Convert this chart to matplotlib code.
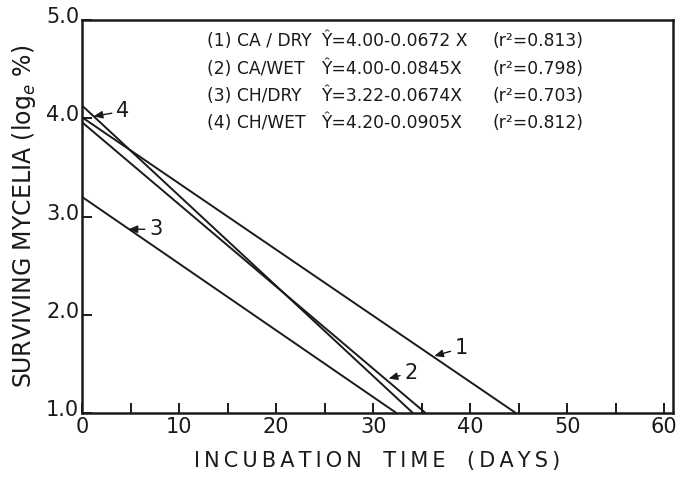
import matplotlib
matplotlib.use("Agg")
import matplotlib.pyplot as plt
from matplotlib.transforms import ScaledTranslation

# ---- data ----
line_ids = ["1", "2", "3", "4"]
y_start = [4.01, 3.96, 3.20, 4.13]      # value at day 0
x_end = [44.7, 35.4, 32.4, 34.1]        # day where each line reaches 1.0
y_floor = 1.0

eq_labels = ["(1) CA / DRY", "(2) CA/WET", "(3) CH/DRY", "(4) CH/WET"]
eq_formulas = ["Ŷ=4.00-0.0672 X", "Ŷ=4.00-0.0845X", "Ŷ=3.22-0.0674X", "Ŷ=4.20-0.0905X"]
eq_r2 = ["(r²=0.813)", "(r²=0.798)", "(r²=0.703)", "(r²=0.812)"]

x_ticks_major = [0, 10, 20, 30, 40, 50, 60]
x_ticks_minor = [5, 15, 25, 35, 45, 55]
y_ticks = [1.0, 2.0, 3.0, 4.0, 5.0]
y_tick_labels = ["1.0", "2.0", "3.0", "4.0", "5.0"]
x_tick_labels = ["0", "10", "20", "30", "40", "50", "60"]

# label positions: (text x, text y, arrow tip x, arrow tip y)
line_marks = {
    "4": (3.5, 4.07, 1.2, 4.02),
    "3": (6.9, 2.87, 4.8, 2.87),
    "2": (33.2, 1.41, 31.6, 1.35),
    "1": (38.4, 1.66, 36.3, 1.58),
}

W, H = 689, 479
fig = plt.figure(figsize=(W / 100, H / 100), dpi=100)
ax = fig.add_axes([82 / W, (H - 413) / H, (673 - 82) / W, (413 - 20) / H])

ink = "#1a1a1a"
for ys, xe in zip(y_start, x_end):
    ax.plot([0, xe], [ys, y_floor], color=ink, lw=1.4, solid_capstyle="butt")

ax.set_xlim(0, 60.9)
ax.set_ylim(1.0, 4.97)

for s in ax.spines.values():
    s.set_linewidth(1.8)
    s.set_color(ink)

ax.set_xticks(x_ticks_major)
ax.set_xticks(x_ticks_minor, minor=True)
ax.set_xticklabels(x_tick_labels, fontsize=15)
ax.set_yticks(y_ticks)
ax.set_yticklabels(y_tick_labels, fontsize=15)
ax.tick_params(axis="both", which="both", direction="in", length=7, width=1.4, color=ink, labelcolor=ink)
ax.tick_params(axis="x", pad=3)
ax.tick_params(axis="y", pad=2)
for lab in ax.get_yticklabels():
    lab.set_transform(lab.get_transform() + ScaledTranslation(0, 5 / 100, fig.dpi_scale_trans))

xlabel = "\u2009".join("INCUBATION TIME (DAYS)").replace("\u2009 \u2009", "\u2009  \u2009")
ax.set_xlabel(xlabel, fontsize=15, color=ink, labelpad=10)
ax.set_ylabel("SURVIVING MYCELIA (log$_e$ %)", fontsize=17, color=ink, labelpad=6)

for key, (tx, ty, ax_, ay_) in line_marks.items():
    ax.annotate(key, xy=(ax_, ay_), xytext=(tx, ty), fontsize=15, color=ink,
                va="center", ha="left",
                arrowprops=dict(arrowstyle="-|>,head_length=0.35,head_width=0.15",
                                color=ink, lw=1.0, shrinkA=1, shrinkB=0))

rows_y = [46, 74, 101, 128]
for lab, f, r, py in zip(eq_labels, eq_formulas, eq_r2, rows_y):
    fy = 1 - py / H
    fig.text(207 / W, fy, lab, fontsize=12.3, color=ink, va="baseline")
    fig.text(321 / W, fy, f, fontsize=12.3, color=ink, va="baseline")
    fig.text(493 / W, fy, r, fontsize=12.3, color=ink, va="baseline")

fig.savefig("out.png", dpi=100)
